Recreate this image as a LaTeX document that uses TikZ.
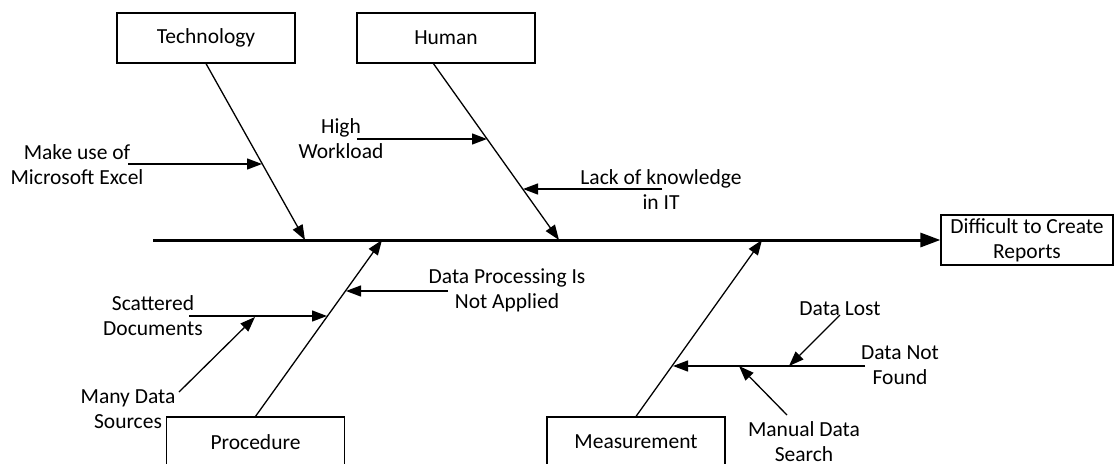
\documentclass[tikz,border=0pt]{standalone}
\usepackage{fontspec}
\setmainfont{Carlito}
\usetikzlibrary{arrows.meta,calc}
\newcommand\labelfont{\fontsize{21.5}{25}\selectfont}
\tikzset{
  catbox/.style={draw, line width=1.2pt, minimum width=178pt, minimum height=50pt,
                 inner sep=0pt, font=\labelfont},
  lbl/.style={align=center, inner sep=0pt, font=\labelfont},
  bone/.style={line width=1.3pt, -{Triangle[length=15pt,width=11pt]}},
  spine/.style={line width=3pt, -{Triangle[length=20pt,width=14pt]}},
}
\begin{document}
\begin{tikzpicture}[x=1pt,y=-1pt]
  \useasboundingbox (0,0) rectangle (1115,463);
  \clip (0,0) rectangle (1115,463);

  % category boxes and effect
  \node[catbox] (tech)  at (206,38)  {Technology};
  \node[catbox] (human) at (446,38)  {Human};
  \node[catbox] (proc)  at (255.5,442) {Procedure};
  \node[catbox] (meas)  at (636,442) {Measurement};
  \node[catbox, minimum width=172pt, align=center] (effect) at (1027,240)
        {Difficult to Create\\Reports};

  % spine
  \coordinate (s0) at (153,240);
  \draw[spine] (s0) -- (effect.west);

  % main bones
  \coordinate (techEnd)  at (305,240);
  \coordinate (humTop)   at (433,63);
  \coordinate (humEnd)   at (559,240);
  \coordinate (procEnd)  at (382,240);
  \coordinate (measEnd)  at (762,240);
  \draw[bone] (tech.south) -- (techEnd);
  \draw[bone] (humTop) -- (humEnd);
  \draw[bone] (proc.north) -- (procEnd);
  \draw[bone] (meas.north) -- (measEnd);

  % cause labels
  \node[lbl] (excel)   at (77,164.5)  {Make use of\\Microsoft Excel};
  \node[lbl] (work)    at (341,139)   {High\\Workload};
  \node[lbl] (know)    at (661,189.5) {Lack of knowledge\\in IT};
  \node[lbl] (dproc)   at (507,290.5) {Data Processing Is\\Not Applied};
  \node[lbl] (scat)    at (153,316)   {Scattered\\Documents};
  \node[lbl] (many)    at (128,409.5) {Many Data\\Sources};
  \node[lbl] (lost)    at (840,309)   {Data Lost};
  \node[lbl] (notfound) at (900,365.5) {Data Not\\Found};
  \node[lbl] (manual)  at (804,442)   {Manual Data\\Search};

  % cause arrows
  \coordinate (excelS) at (128,164);  \coordinate (excelT) at (262,164);
  \coordinate (workS)  at (357,139);  \coordinate (workT)  at (487,139);
  \coordinate (knowS)  at (662,189);  \coordinate (knowT)  at (523,189);
  \coordinate (dprocS) at (448,291);  \coordinate (dprocT) at (346,291);
  \coordinate (scatS)  at (189,316);  \coordinate (scatT)  at (327,316);
  \coordinate (manyS)  at (179,392);  \coordinate (manyT)  at (255,317);
  \coordinate (nfS)    at (865,366);  \coordinate (nfT)    at (673,366);
  \coordinate (lostS)  at (840,315);  \coordinate (lostT)  at (789,366);
  \coordinate (manS)   at (787,415);  \coordinate (manT)   at (739,366);

  \draw[bone] (excelS) -- (excelT);
  \draw[bone] (workS) -- (workT);
  \draw[bone] (knowS) -- (knowT);
  \draw[bone] (dprocS) -- (dprocT);
  \draw[bone] (scatS) -- (scatT);
  \draw[bone] (manyS) -- (manyT);
  \draw[bone] (nfS) -- (nfT);
  \draw[bone] (lostS) -- (lostT);
  \draw[bone] (manS) -- (manT);
\end{tikzpicture}
\end{document}
